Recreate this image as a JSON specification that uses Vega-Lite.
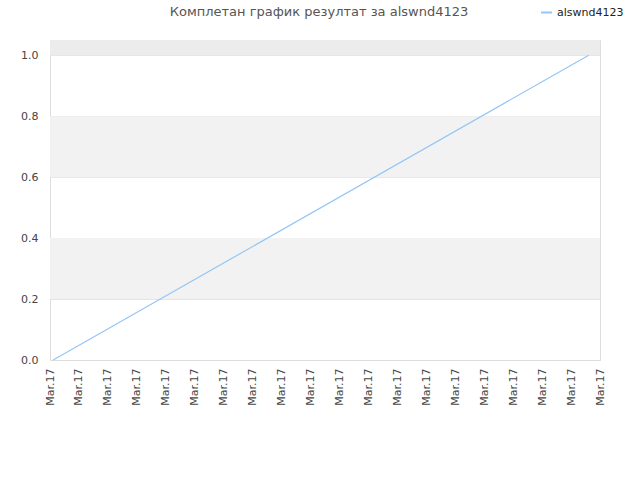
{
  "$schema": "https://vega.github.io/schema/vega-lite/v6.json",
  "width": 550,
  "height": 320,
  "autosize": {"type": "none"},
  "padding": {"left": 50, "top": 40, "right": 40, "bottom": 120},
  "background": "white",
  "title": {
    "text": "Комплетан график резултат за alswnd4123",
    "anchor": "middle",
    "dx": -6,
    "offset": -13,
    "font": "DejaVu Sans",
    "fontSize": 13,
    "fontWeight": "normal",
    "color": "#555555"
  },
  "config": {
    "view": {"stroke": "#dddddd", "strokeWidth": 1},
    "axis": {"labelFont": "DejaVu Sans", "labelFontSize": 11, "labelColor": "#444444", "domainColor": "#dddddd", "ticks": false, "gridColor": "#e4e4e4", "title": null}
  },
  "layer": [
    {
      "data": {"values": [
        {"lo": 0.2, "hi": 0.4, "band": "a"},
        {"lo": 0.6, "hi": 0.8, "band": "a"},
        {"lo": 1.0, "hi": 1.05, "band": "b"}
      ]},
      "mark": {"type": "rect"},
      "encoding": {
        "y": {"field": "lo", "type": "quantitative", "scale": {"domain": [0, 1.05], "nice": false, "zero": false},
          "axis": {"values": [0, 0.2, 0.4, 0.6, 0.8, 1.0], "format": ".1f", "grid": true, "labelPadding": 12, "domain": true, "labelColor": "#444444"}},
        "y2": {"field": "hi"},
        "fill": {"field": "band", "type": "nominal", "scale": {"domain": ["a", "b"], "range": ["#f2f2f2", "#ececec"]}, "legend": null}
      }
    },
    {
      "data": {"values": [
        {"t": 0.11, "score": 0, "player": "alswnd4123"},
        {"t": 18.61, "score": 1, "player": "alswnd4123"}
      ]},
      "mark": {"type": "line", "strokeWidth": 1.2, "clip": false},
      "encoding": {
        "x": {
          "field": "t", "type": "quantitative",
          "scale": {"domain": [0, 19], "nice": false, "zero": false},
          "axis": {"values": [0,1,2,3,4,5,6,7,8,9,10,11,12,13,14,15,16,17,18,19], "labelExpr": "'Mar.17'", "labelAngle": -90, "labelAlign": "right", "labelBaseline": "middle", "labelPadding": 8, "grid": false, "domain": true, "labelFlush": false, "labelOverlap": false, "labelColor": "#444444"}
        },
        "y": {
          "field": "score", "type": "quantitative",
          "scale": {"domain": [0, 1.05], "nice": false, "zero": false},
          "axis": {"values": [0, 0.2, 0.4, 0.6, 0.8, 1.0], "format": ".1f", "grid": true, "labelPadding": 12, "domain": true, "labelColor": "#444444"}
        },
        "color": {
          "field": "player", "type": "nominal",
          "scale": {"range": ["#95c6f5"]},
          "legend": {"orient": "none", "legendX": 490, "legendY": -34, "title": null, "symbolType": "stroke", "symbolStrokeWidth": 2, "symbolSize": 120, "labelFont": "DejaVu Sans", "labelFontSize": 11, "labelColor": "#222222"}
        }
      }
    }
  ]
}
